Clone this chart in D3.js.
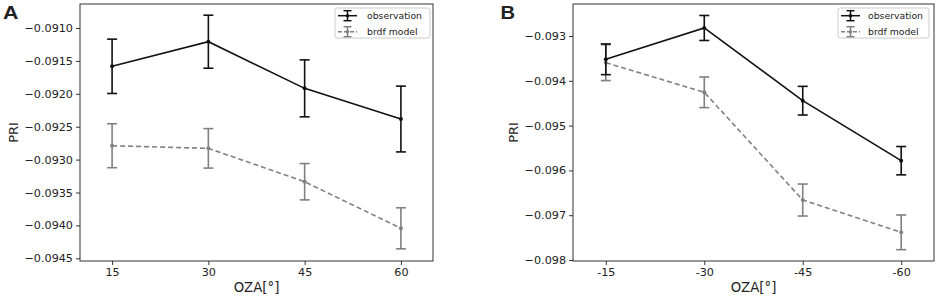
<!DOCTYPE html>
<html><head><meta charset="utf-8">
<script src="https://cdn.jsdelivr.net/npm/d3@7"></script>
<style>body{margin:0;background:#fff}svg{display:block}text{font-family:"DejaVu Sans",sans-serif;fill:#222}</style>
</head><body><svg id="c" width="941" height="299"></svg>
<script>
const oza = [15, 30, 45, 60];
const xLabelsA = ["15", "30", "45", "60"];
const xLabelsB = ["-15", "-30", "-45", "-60"];
const seriesNames = ["observation", "brdf model"];

const obsA = [-0.091582, -0.091208, -0.091917, -0.092383];
const obsErrA = [0.000413, 0.000403, 0.000433, 0.000500];
const modelA = [-0.092789, -0.092829, -0.093336, -0.094044];
const modelErrA = [0.000334, 0.000300, 0.000276, 0.000312];
const yTicksA = [-0.0910, -0.0915, -0.0920, -0.0925, -0.0930, -0.0935, -0.0940, -0.0945];

const obsB = [-0.093520, -0.092821, -0.094444, -0.095783];
const obsErrB = [0.000343, 0.000279, 0.000320, 0.000316];
const modelB = [-0.093595, -0.094257, -0.096661, -0.097382];
const modelErrB = [0.000400, 0.000342, 0.000357, 0.000387];
const yTicksB = [-0.093, -0.094, -0.095, -0.096, -0.097, -0.098];

const svg = d3.select("#c");
const fmtMinus = f => v => f(v).replace("-", "\u2212");

function panel(o) {
  const g = svg.append("g");
  const x = d3.scaleLinear().domain([10, 65]).range([o.left, o.right]);
  const y = d3.scaleLinear().domain(o.ydom).range([o.bottom, o.top]);

  const xa = g.append("g").attr("transform", `translate(0,${o.bottom})`)
    .call(d3.axisBottom(x).tickValues(oza).tickFormat((d, i) => o.xLabels[i]).tickSize(4).tickPadding(3));
  const ya = g.append("g").attr("transform", `translate(${o.left},0)`)
    .call(d3.axisLeft(y).tickValues(o.yTicks).tickFormat(fmtMinus(d3.format(o.yfmt))).tickSize(4).tickPadding(3));
  [xa, ya].forEach(a => {
    a.select(".domain").remove();
    a.selectAll("line").attr("stroke", "#333");
    a.selectAll("text").style("font-size", "11.2px").attr("fill", "#222");
  });
  g.append("rect").attr("x", o.left).attr("y", o.top).attr("width", o.right - o.left).attr("height", o.bottom - o.top)
    .attr("fill", "none").attr("stroke", "#333").attr("stroke-width", 1);

  const drawSeries = (vals, errs, color, dash) => {
    const pts = oza.map((d, i) => ({ x: d, v: vals[i], e: errs[i] }));
    g.append("path").datum(pts).attr("fill", "none").attr("stroke", color).attr("stroke-width", 1.6)
      .attr("stroke-dasharray", dash)
      .attr("d", d3.line().x(d => x(d.x)).y(d => y(d.v)));
    const eb = g.selectAll(null).data(pts).enter().append("g").attr("stroke", color).attr("stroke-width", 1.6);
    eb.append("line").attr("x1", d => x(d.x)).attr("x2", d => x(d.x)).attr("y1", d => y(d.v - d.e)).attr("y2", d => y(d.v + d.e));
    eb.append("line").attr("x1", d => x(d.x) - 5).attr("x2", d => x(d.x) + 5).attr("y1", d => y(d.v - d.e)).attr("y2", d => y(d.v - d.e));
    eb.append("line").attr("x1", d => x(d.x) - 5).attr("x2", d => x(d.x) + 5).attr("y1", d => y(d.v + d.e)).attr("y2", d => y(d.v + d.e));
    g.selectAll(null).data(pts).enter().append("circle").attr("cx", d => x(d.x)).attr("cy", d => y(d.v)).attr("r", 2).attr("fill", color);
  };
  drawSeries(o.model, o.modelErr, "#808080", "5,3");
  drawSeries(o.obs, o.obsErr, "#111", null);

  g.append("text").attr("x", (o.left + o.right) / 2).attr("y", 292).attr("text-anchor", "middle")
    .style("font-size", "13.3px").text("OZA[°]");
  g.append("text").attr("transform", `translate(${o.ylabX},${(o.top + o.bottom) / 2}) rotate(-90)`)
    .attr("text-anchor", "middle").attr("dy", "0.35em").style("font-size", "13px").text("PRI");
  g.append("text").attr("transform", `translate(${o.letterX},19) scale(${o.letterScale},1)`)
    .style("font-family", "'Liberation Sans',Arial,sans-serif")
    .style("font-weight", "bold").style("font-size", "17.5px").attr("fill", "#000").text(o.letter);

  const lg = g.append("g").attr("transform", `translate(${o.legX},8)`);
  lg.append("rect").attr("width", o.legW).attr("height", 30).attr("rx", 2).attr("fill", "#fff").attr("fill-opacity", 0.8)
    .attr("stroke", "#ccc");
  [["#111", null], ["#808080", "4,2"]].forEach((s, i) => {
    const cy = 7.7 + i * 16, hx = 3, hw = 19, cx = hx + hw / 2;
    const h = lg.append("g").attr("stroke", s[0]).attr("stroke-width", 1.5);
    h.append("line").attr("x1", hx).attr("x2", hx + hw).attr("y1", cy).attr("y2", cy).attr("stroke-dasharray", s[1]);
    h.append("line").attr("x1", cx).attr("x2", cx).attr("y1", cy - 5).attr("y2", cy + 5);
    h.append("line").attr("x1", cx - 4).attr("x2", cx + 4).attr("y1", cy - 5).attr("y2", cy - 5);
    h.append("line").attr("x1", cx - 4).attr("x2", cx + 4).attr("y1", cy + 5).attr("y2", cy + 5);
    lg.append("circle").attr("cx", cx).attr("cy", cy).attr("r", 1.8).attr("fill", s[0]);
    lg.append("text").attr("x", o.legTextX).attr("y", cy).attr("dy", "0.35em").style("font-size", "9.3px").text(seriesNames[i]);
  });
}

panel({ left: 80, right: 433, top: 4, bottom: 261, ydom: [-0.094541, -0.090635], yTicks: yTicksA, yfmt: ".4f",
  xLabels: xLabelsA, obs: obsA, obsErr: obsErrA, model: modelA, modelErr: modelErrA,
  ylabX: 13, letter: "A", letterX: 3, letterScale: 1.22, legX: 335, legW: 95, legTextX: 32 });
panel({ left: 573, right: 934, top: 4, bottom: 261, ydom: [-0.098022, -0.092286], yTicks: yTicksB, yfmt: ".3f",
  xLabels: xLabelsB, obs: obsB, obsErr: obsErrB, model: modelB, modelErr: modelErrB,
  ylabX: 513, letter: "B", letterX: 500.5, letterScale: 1.15, legX: 838, legW: 91, legTextX: 30 });
</script></body></html>
